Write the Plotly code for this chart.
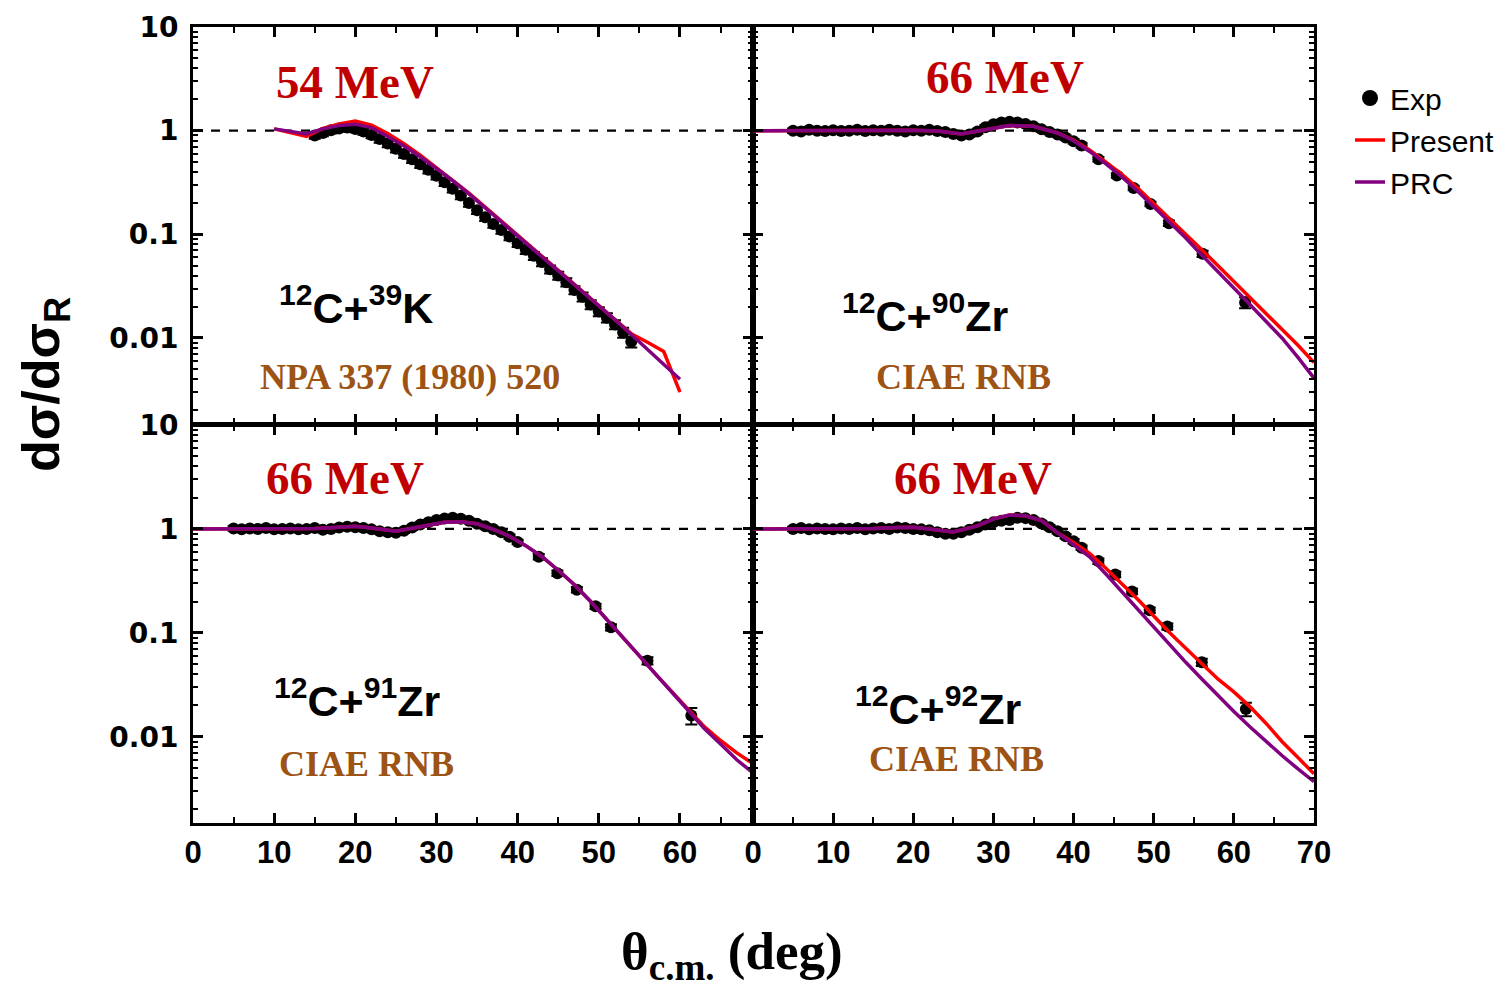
import plotly.graph_objects as go

# ---------------- data ----------------
# Panel TL: 12C+39K, 54 MeV
tl_exp_x = [15, 16, 17, 18, 19, 20, 21, 22, 23, 24, 25, 26, 27, 28, 29, 30, 31, 32, 33, 34,
            35, 36, 37, 38, 39, 40, 41, 42, 43, 44, 45, 46, 47, 48, 49, 50, 51, 52, 53, 54]
tl_exp_y = [0.90, 0.95, 1.01, 1.05, 1.07, 1.04, 0.98, 0.91, 0.83, 0.75, 0.67, 0.595, 0.53, 0.475,
            0.42, 0.368, 0.318, 0.275, 0.237, 0.200, 0.171, 0.146, 0.126, 0.110, 0.095, 0.082,
            0.071, 0.062, 0.054, 0.046, 0.040, 0.0345, 0.029, 0.025, 0.021, 0.018, 0.0157,
            0.0135, 0.0113, 0.0092]
tl_exp_err = [0.07, 0.07, 0.07, 0.07, 0.07, 0.07, 0.07, 0.07, 0.08, 0.08, 0.08, 0.08, 0.08, 0.08,
              0.08, 0.08, 0.08, 0.08, 0.08, 0.08, 0.08, 0.08, 0.08, 0.08, 0.08, 0.08, 0.09, 0.09,
              0.09, 0.09, 0.09, 0.09, 0.09, 0.10, 0.10, 0.10, 0.10, 0.10, 0.11, 0.12]
tl_curve_x = [10, 12, 14, 16, 18, 20, 22, 24, 26, 28, 30, 32, 34, 36, 38, 40, 42, 44, 46, 48,
              50, 52, 54, 56, 58, 60]
tl_prc = [1.04, 0.98, 0.93, 1.04, 1.12, 1.15, 1.07, 0.88, 0.71, 0.56, 0.43, 0.33, 0.245, 0.18,
          0.132, 0.097, 0.071, 0.052, 0.038, 0.028, 0.0205, 0.0150, 0.0108, 0.0078, 0.0056, 0.0040]
tl_present = [1.04, 0.96, 0.88, 1.05, 1.16, 1.24, 1.13, 0.94, 0.75, 0.58, 0.44, 0.335, 0.25,
              0.183, 0.134, 0.098, 0.072, 0.053, 0.039, 0.0285, 0.021, 0.0153, 0.0110, 0.0091,
              0.0074, 0.0030]

# Panel TR: 12C+90Zr, 66 MeV
tr_exp_x = [5, 6, 7, 8, 9, 10, 11, 12, 13, 14, 15, 16, 17, 18, 19, 20, 21, 22, 23, 24, 25, 26,
            27, 28, 29, 30, 31, 32, 33, 34, 35, 36, 37, 38, 39, 40, 41,
            43.1, 45.4, 47.5, 49.6, 51.9, 56.1, 61.4]
tr_exp_y = [1.00, 0.98, 1.02, 1.00, 0.99, 1.01, 0.99, 1.00, 1.02, 0.99, 1.01, 1.00, 1.02, 1.00,
            0.98, 1.01, 1.00, 1.02, 0.99, 0.97, 0.93, 0.90, 0.92, 0.98, 1.08, 1.15, 1.20, 1.22,
            1.20, 1.16, 1.10, 1.03, 0.97, 0.92, 0.86, 0.79, 0.72,
            0.53, 0.37, 0.28, 0.196, 0.128, 0.065, 0.022]
tr_exp_err = [0.05, 0.05, 0.05, 0.05, 0.05, 0.05, 0.05, 0.05, 0.05, 0.05, 0.05, 0.05, 0.05, 0.05,
              0.05, 0.05, 0.05, 0.05, 0.05, 0.05, 0.05, 0.05, 0.05, 0.05, 0.05, 0.05, 0.05, 0.05,
              0.05, 0.05, 0.05, 0.05, 0.05, 0.05, 0.05, 0.05, 0.05,
              0.05, 0.05, 0.05, 0.05, 0.06, 0.07, 0.12]
tr_curve_x = [0, 5, 10, 15, 20, 23, 26, 29, 32, 35, 38, 40, 42, 44, 46, 48, 50, 52, 54, 56, 58,
              60, 62, 64, 66, 68, 70]
tr_prc = [1.0, 1.0, 1.0, 1.01, 1.01, 0.99, 0.93, 1.02, 1.12, 1.10, 0.95, 0.80, 0.63, 0.48, 0.36,
          0.26, 0.185, 0.13, 0.092, 0.063, 0.044, 0.030, 0.021, 0.0145, 0.0100, 0.0065, 0.0041]
tr_present = [1.0, 1.0, 1.0, 1.01, 1.01, 0.99, 0.93, 1.02, 1.12, 1.10, 0.95, 0.81, 0.65, 0.50,
              0.38, 0.28, 0.20, 0.142, 0.100, 0.071, 0.050, 0.035, 0.025, 0.0175, 0.0122, 0.0085,
              0.0058]

# Panel BL: 12C+91Zr, 66 MeV
bl_exp_x = [5, 6, 7, 8, 9, 10, 11, 12, 13, 14, 15, 16, 17, 18, 19, 20, 21, 22, 23, 24, 25, 26,
            27, 28, 29, 30, 31, 32, 33, 34, 35, 36, 37, 38, 39, 40,
            42.6, 44.9, 47.3, 49.6, 51.5, 56.0, 61.4]
bl_exp_y = [1.01, 0.99, 1.01, 1.00, 1.02, 0.99, 1.00, 1.01, 0.99, 1.00, 1.02, 0.98, 1.00, 1.03,
            1.05, 1.04, 1.02, 0.99, 0.95, 0.93, 0.92, 0.96, 1.03, 1.10, 1.16, 1.22, 1.26, 1.28,
            1.25, 1.20, 1.12, 1.06, 1.00, 0.93, 0.84, 0.75,
            0.54, 0.375, 0.26, 0.18, 0.113, 0.054, 0.016]
bl_exp_err = [0.05, 0.05, 0.05, 0.05, 0.05, 0.05, 0.05, 0.05, 0.05, 0.05, 0.05, 0.05, 0.05, 0.05,
              0.05, 0.05, 0.05, 0.05, 0.05, 0.05, 0.05, 0.05, 0.05, 0.05, 0.05, 0.05, 0.05, 0.05,
              0.05, 0.05, 0.05, 0.05, 0.05, 0.05, 0.05, 0.05,
              0.06, 0.06, 0.06, 0.06, 0.07, 0.08, 0.18]
bl_curve_x = [0, 5, 10, 15, 18, 20, 22, 25, 28, 31, 33, 35, 37, 39, 41, 43, 45, 47, 49, 51, 53,
              55, 57, 59, 61, 63, 65, 67, 69, 70]
bl_prc = [1.0, 1.0, 1.0, 1.01, 1.04, 1.06, 1.02, 0.95, 1.05, 1.16, 1.17, 1.12, 0.99, 0.85, 0.69,
          0.54, 0.40, 0.29, 0.20, 0.135, 0.090, 0.060, 0.040, 0.027, 0.018, 0.012, 0.0085,
          0.0060, 0.0045, 0.0039]
bl_present = [1.0, 1.0, 1.0, 1.01, 1.04, 1.06, 1.02, 0.95, 1.05, 1.16, 1.17, 1.12, 0.99, 0.85,
              0.69, 0.54, 0.40, 0.29, 0.20, 0.135, 0.090, 0.060, 0.040, 0.027, 0.0185, 0.0125,
              0.0092, 0.0070, 0.0055, 0.0048]

# Panel BR: 12C+92Zr, 66 MeV
br_exp_x = [5, 6, 7, 8, 9, 10, 11, 12, 13, 14, 15, 16, 17, 18, 19, 20, 21, 22, 23, 24, 25, 26,
            27, 28, 29, 30, 31, 32, 33, 34, 35, 36, 37, 38, 39, 40, 41,
            43.1, 45.2, 47.3, 49.5, 51.7, 56.0, 61.5]
br_exp_y = [1.00, 1.02, 0.99, 1.01, 1.00, 0.99, 1.01, 1.00, 1.02, 0.99, 1.01, 1.02, 1.00, 1.03,
            1.02, 1.00, 0.99, 0.97, 0.93, 0.90, 0.90, 0.93, 0.98, 1.04, 1.10, 1.16, 1.20, 1.22,
            1.28, 1.27, 1.22, 1.13, 1.04, 0.95, 0.85, 0.76, 0.66,
            0.49, 0.365, 0.25, 0.165, 0.115, 0.052, 0.0185]
br_exp_err = [0.05, 0.05, 0.05, 0.05, 0.05, 0.05, 0.05, 0.05, 0.05, 0.05, 0.05, 0.05, 0.05, 0.05,
              0.05, 0.05, 0.05, 0.05, 0.05, 0.05, 0.05, 0.05, 0.05, 0.05, 0.05, 0.05, 0.05, 0.05,
              0.05, 0.05, 0.05, 0.05, 0.05, 0.05, 0.05, 0.05, 0.05,
              0.06, 0.06, 0.06, 0.06, 0.07, 0.08, 0.15]
br_curve_x = [0, 5, 10, 15, 18, 20, 22, 25, 28, 30, 32, 34, 36, 38, 40, 42, 44, 46, 48, 50, 52,
              54, 56, 58, 60, 62, 64, 66, 68, 70]
br_prc = [1.0, 1.0, 1.0, 1.01, 1.03, 1.04, 1.0, 0.935, 1.07, 1.25, 1.36, 1.34, 1.20, 0.92, 0.72,
          0.54, 0.37, 0.25, 0.17, 0.113, 0.077, 0.052, 0.036, 0.025, 0.0175, 0.0125, 0.0090,
          0.0066, 0.0049, 0.0037]
br_present = [1.0, 1.0, 1.0, 1.01, 1.03, 1.04, 1.0, 0.935, 1.07, 1.25, 1.36, 1.34, 1.20, 0.92,
              0.74, 0.58, 0.42, 0.30, 0.21, 0.145, 0.100, 0.071, 0.050, 0.036, 0.027, 0.0195,
              0.0135, 0.0090, 0.0063, 0.0044]

energy_labels = ["54 MeV", "66 MeV", "66 MeV", "66 MeV"]
system_labels = ["<sup>12</sup>C+<sup>39</sup>K", "<sup>12</sup>C+<sup>90</sup>Zr",
                 "<sup>12</sup>C+<sup>91</sup>Zr", "<sup>12</sup>C+<sup>92</sup>Zr"]
source_labels = ["NPA 337 (1980) 520", "CIAE RNB", "CIAE RNB", "CIAE RNB"]
x_tick_vals = [0, 10, 20, 30, 40, 50, 60, 70]
y_tick_vals = [0.01, 0.1, 1, 10]
y_tick_text = ["0.01", "0.1", "1", "10"]

# ---------------- styling ----------------
W, H = 1506, 993
SANS = "Liberation Sans, Arial, sans-serif"
SERIF = "Liberation Serif, Times New Roman, serif"
RED = "#ff0000"
PURPLE = "#800080"
DARKRED = "#c00000"
BROWN = "#9c5314"


def PX(x):
    return x / W


def PY(y):
    return 1 - y / H


xL = [PX(193), PX(753)]
xR = [PX(753), PX(1314)]
yT = [PY(424), PY(27)]
yB = [PY(823), PY(425)]

fig = go.Figure()

panels = [
    ("x", "y", tl_exp_x, tl_exp_y, tl_exp_err, tl_curve_x, tl_present, tl_prc),
    ("x2", "y2", tr_exp_x, tr_exp_y, tr_exp_err, tr_curve_x, tr_present, tr_prc),
    ("x3", "y3", bl_exp_x, bl_exp_y, bl_exp_err, bl_curve_x, bl_present, bl_prc),
    ("x4", "y4", br_exp_x, br_exp_y, br_exp_err, br_curve_x, br_present, br_prc),
]

for xa, ya, ex, ey, ee, cx, pres, prc in panels:
    fig.add_trace(go.Scatter(x=[0, 70], y=[1, 1], mode="lines", xaxis=xa, yaxis=ya,
                             line=dict(color="black", width=2.2, dash="dash"),
                             showlegend=False, hoverinfo="skip"))
    plus = [v * e for v, e in zip(ey, ee)]
    fig.add_trace(go.Scatter(x=ex, y=ey, mode="markers", xaxis=xa, yaxis=ya,
                             marker=dict(symbol="circle", size=12, color="black"),
                             error_y=dict(type="data", array=plus, arrayminus=plus,
                                          color="black", thickness=2, width=6),
                             showlegend=False))
    fig.add_trace(go.Scatter(x=cx, y=pres, mode="lines", xaxis=xa, yaxis=ya,
                             line=dict(color=RED, width=3.5), showlegend=False))
    fig.add_trace(go.Scatter(x=cx, y=prc, mode="lines", xaxis=xa, yaxis=ya,
                             line=dict(color=PURPLE, width=3.5), showlegend=False))

# legend entries
fig.add_trace(go.Scatter(x=[None], y=[None], mode="markers", name="Exp",
                         marker=dict(symbol="circle", size=22, color="black"),
                         xaxis="x2", yaxis="y2"))
fig.add_trace(go.Scatter(x=[None], y=[None], mode="lines", name="Present",
                         line=dict(color=RED, width=3.5), xaxis="x2", yaxis="y2"))
fig.add_trace(go.Scatter(x=[None], y=[None], mode="lines", name="PRC",
                         line=dict(color=PURPLE, width=3.5), xaxis="x2", yaxis="y2"))


def xaxis(domain, anchor, rng, labels):
    return dict(domain=domain, anchor=anchor, range=rng, type="linear", automargin=False,
                showline=True, linecolor="black", linewidth=3, mirror="allticks",
                ticks="inside", ticklen=10, tickwidth=2.5, tickcolor="black",
                tickvals=x_tick_vals, showticklabels=labels,
                tickfont=dict(family=SANS, size=31, color="black", weight="bold"),
                ticklabelstandoff=0,
                minor=dict(ticks="inside", dtick=5, ticklen=6, tickwidth=2, tickcolor="black",
                           showgrid=False),
                showgrid=False, zeroline=False)


def yaxis(domain, anchor, labels):
    return dict(domain=domain, anchor=anchor, type="log", range=[-2.83, 1], automargin=False,
                showline=True, linecolor="black", linewidth=3, mirror="allticks",
                ticks="inside", ticklen=10, tickwidth=2.5, tickcolor="black",
                tickmode="array", tickvals=y_tick_vals, ticktext=y_tick_text,
                showticklabels=labels,
                tickfont=dict(family="DejaVu Sans, sans-serif", size=28, color="black",
                              weight="bold"),
                ticklabelstandoff=6,
                minor=dict(ticks="inside", dtick="D1", ticklen=5, tickwidth=1.8,
                           tickcolor="black", showgrid=False),
                showgrid=False, zeroline=False)


fig.update_layout(
    width=W, height=H,
    margin=dict(l=0, r=0, t=0, b=0, autoexpand=False),
    paper_bgcolor="white", plot_bgcolor="white",
    xaxis=xaxis(xL, "y", [0, 69], False),
    xaxis2=xaxis(xR, "y2", [0, 70], False),
    xaxis3=xaxis(xL, "y3", [0, 69], True),
    xaxis4=xaxis(xR, "y4", [0, 70], True),
    yaxis=yaxis(yT, "x", True),
    yaxis2=yaxis(yT, "x2", False),
    yaxis3=yaxis(yB, "x3", True),
    yaxis4=yaxis(yB, "x4", False),
    showlegend=True,
    legend=dict(x=PX(1350), y=PY(72), xanchor="left", yanchor="top",
                bgcolor="rgba(0,0,0,0)", borderwidth=0,
                font=dict(family=SANS, size=30, color="black"),
                itemsizing="trace", tracegroupgap=0),
)

# panel annotations (pixel positions -> paper)
energy_pos = [(355, 82), (1005, 77), (345, 478), (973, 478)]
system_pos = [(356, 305), (925, 313), (357, 698), (938, 706)]
source_pos = [(410, 377), (963, 377), (366, 764), (956, 759)]

annotations = []
for i in range(4):
    ex_, ey_ = energy_pos[i]
    annotations.append(dict(x=PX(ex_), y=PY(ey_), xref="paper", yref="paper",
                            text="<b>" + energy_labels[i] + "</b>", showarrow=False,
                            xanchor="center", yanchor="middle",
                            font=dict(family=SERIF, size=47, color=DARKRED)))
    sx, sy = system_pos[i]
    annotations.append(dict(x=PX(sx), y=PY(sy), xref="paper", yref="paper",
                            text="<b>" + system_labels[i] + "</b>", showarrow=False,
                            xanchor="center", yanchor="middle",
                            font=dict(family=SANS, size=43, color="black")))
    rx, ry = source_pos[i]
    annotations.append(dict(x=PX(rx), y=PY(ry), xref="paper", yref="paper",
                            text="<b>" + source_labels[i] + "</b>", showarrow=False,
                            xanchor="center", yanchor="middle",
                            font=dict(family=SERIF, size=36, color=BROWN)))

# axis titles
annotations.append(dict(x=PX(45), y=PY(385), xref="paper", yref="paper",
                        text="<b>dσ/dσ<sub>R</sub></b>", showarrow=False, textangle=-90,
                        xanchor="center", yanchor="middle",
                        font=dict(family=SANS, size=52, color="black")))
annotations.append(dict(x=PX(732), y=PY(955), xref="paper", yref="paper",
                        text="<b>θ<sub>c.m.</sub> (deg)</b>", showarrow=False,
                        xanchor="center", yanchor="middle",
                        font=dict(family=SERIF, size=53, color="black")))

fig.update_layout(annotations=annotations)

fig.write_html("out.html")
